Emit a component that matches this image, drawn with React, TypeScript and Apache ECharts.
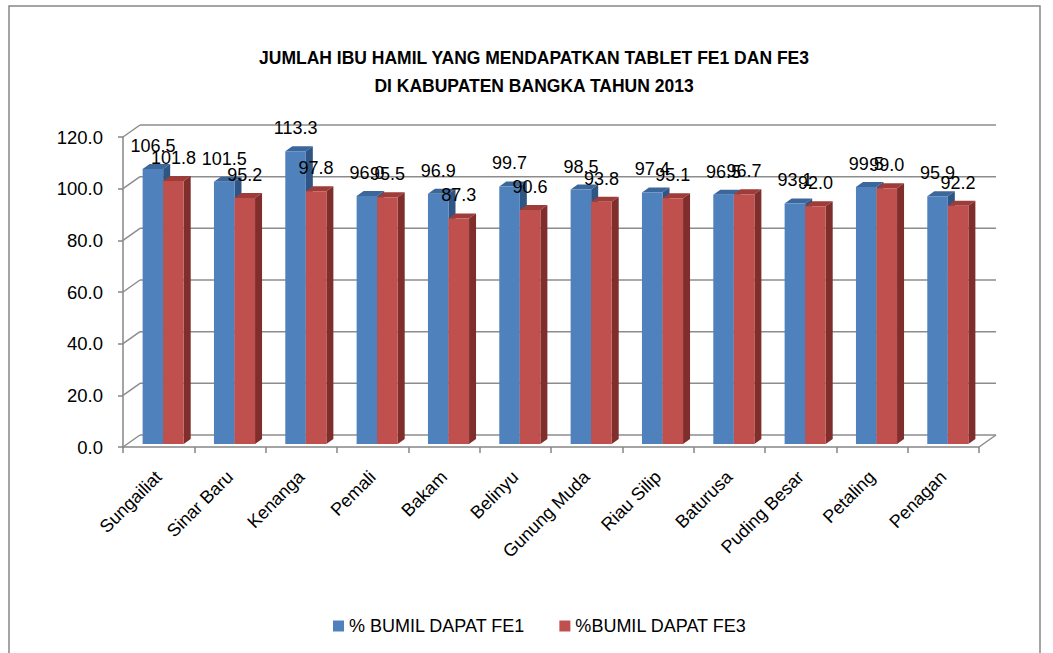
import React, { useEffect, useRef } from 'react';
import * as echarts from 'echarts';

const categories = ['Sungailiat', 'Sinar Baru', 'Kenanga', 'Pemali', 'Bakam', 'Belinyu', 'Gunung Muda', 'Riau Silip', 'Baturusa', 'Puding Besar', 'Petaling', 'Penagan'];
const fe1 = [106.5, 101.5, 113.3, 96.0, 96.9, 99.7, 98.5, 97.4, 96.5, 93.1, 99.5, 95.9];
const fe3 = [101.8, 95.2, 97.8, 95.5, 87.3, 90.6, 93.8, 95.1, 96.7, 92.0, 99.0, 92.2];
const yTicks = [0, 20, 40, 60, 80, 100, 120];
const seriesNames = ['% BUMIL DAPAT FE1', '%BUMIL DAPAT FE3'];
const titleLines = ['JUMLAH IBU HAMIL YANG MENDAPATKAN TABLET FE1 DAN FE3', 'DI KABUPATEN BANGKA TAHUN 2013'];

const FONT = '"Liberation Sans", Arial, sans-serif';
const GRID_COLOR = '#8C8C8C';
const WALL_DX = 17;
const WALL_DY = 12;
const BAR_FX = 4.5;
const BAR_FY = -3;
const BAR_DX = 7;
const BAR_DY = 5;

function makeBarRender(slot: number, front: string, top: string, side: string) {
  return (params: any, api: any) => {
    const idx = api.value(0);
    const v = api.value(1);
    const p0 = api.coord([idx, 0]);
    const p1 = api.coord([idx, v]);
    const band = api.size([1, 0])[0];
    const w = band * 0.288;
    const cx = p0[0] + BAR_FX;
    const l = slot === 0 ? cx - w : cx;
    const r = l + w;
    const b = p0[1] + BAR_FY;
    const t = p1[1] + BAR_FY;
    return {
      type: 'group',
      children: [
        { type: 'polygon', shape: { points: [[l, t], [r, t], [r + BAR_DX, t - BAR_DY], [l + BAR_DX, t - BAR_DY]] }, style: { fill: top } },
        { type: 'polygon', shape: { points: [[r, t], [r + BAR_DX, t - BAR_DY], [r + BAR_DX, b - BAR_DY], [r, b]] }, style: { fill: side } },
        { type: 'rect', shape: { x: l, y: t, width: w, height: b - t }, style: { fill: front } },
        { type: 'text', x: (l + r) / 2, y: t - 23, z2: 10, style: { text: Number(v).toFixed(1), align: 'center', verticalAlign: 'middle', fill: '#000', font: `18px ${FONT}` } },
      ],
    };
  };
}

function wallRender(params: any, api: any) {
  const cs = params.coordSys;
  const v = api.value(1);
  const y = api.coord([0, v])[1];
  const x0 = cs.x;
  const x1 = cs.x + cs.width;
  const ls = { stroke: GRID_COLOR, lineWidth: 1.5 };
  const children: any[] = [
    { type: 'line', shape: { x1: x0, y1: y, x2: x0 + WALL_DX, y2: y - WALL_DY }, style: ls },
    { type: 'line', shape: { x1: x0 + WALL_DX, y1: y - WALL_DY, x2: x1 + WALL_DX, y2: y - WALL_DY }, style: ls },
  ];
  if (v === 0) {
    children.push({ type: 'line', shape: { x1: x1, y1: y, x2: x1 + WALL_DX, y2: y - WALL_DY }, style: ls });
  }
  return { type: 'group', children };
}

export default function App() {
  const ref = useRef<HTMLDivElement>(null);
  useEffect(() => {
    if (!ref.current) return;
    const chart = echarts.init(ref.current, undefined, { renderer: 'svg' });
    chart.setOption({
      animation: false,
      backgroundColor: '#fff',
      title: {
        text: titleLines.join('\n'),
        left: 529,
        top: 39,
        textAlign: 'center',
        textStyle: { fontFamily: FONT, fontSize: 17.5, fontWeight: 'bold', color: '#000', lineHeight: 28 },
      },
      graphic: [
        { type: 'rect', silent: true, z: -10, shape: { x: 9, y: 6, width: 1031, height: 700 }, style: { fill: 'none', stroke: '#868686', lineWidth: 1.5 } },
      ],
      legend: {
        data: seriesNames,
        left: 328,
        top: 612,
        icon: 'rect',
        itemWidth: 11,
        itemHeight: 11,
        itemGap: 34,
        textStyle: { fontFamily: FONT, fontSize: 18, color: '#000' },
      },
      grid: { left: 123, right: 74, top: 137, bottom: 206 },
      xAxis: {
        type: 'category',
        data: categories,
        boundaryGap: true,
        axisLine: { lineStyle: { color: '#868686', width: 1.5 } },
        axisTick: { show: true, length: 6, lineStyle: { color: '#868686', width: 1.5 } },
        axisLabel: { rotate: 45, margin: 27, interval: 0, fontFamily: FONT, fontSize: 18, color: '#000' },
      },
      yAxis: {
        type: 'value',
        min: 0,
        max: 120,
        interval: 20,
        axisLine: { show: true, lineStyle: { color: '#868686', width: 1.5 } },
        axisTick: { show: true, length: 5, lineStyle: { color: '#868686', width: 1.5 } },
        splitLine: { show: false },
        axisLabel: { margin: 20, formatter: (v: number) => v.toFixed(1), fontFamily: FONT, fontSize: 18.5, color: '#000' },
      },
      series: [
        {
          name: 'walls',
          type: 'custom',
          clip: false,
          z: 1,
          silent: true,
          renderItem: wallRender,
          data: yTicks.map((t) => [0, t]),
        },
        {
          name: seriesNames[0],
          type: 'custom',
          clip: false,
          z: 2,
          itemStyle: { color: '#4F81BD' },
          renderItem: makeBarRender(0, '#4F81BD', '#3C679B', '#2E5583'),
          data: fe1.map((v, i) => [i, v]),
        },
        {
          name: seriesNames[1],
          type: 'custom',
          clip: false,
          z: 3,
          itemStyle: { color: '#C0504D' },
          renderItem: makeBarRender(1, '#C0504D', '#9E3C39', '#7F2E2C'),
          data: fe3.map((v, i) => [i, v]),
        },
      ],
    });
    return () => chart.dispose();
  }, []);
  return <div ref={ref} style={{ position: 'fixed', left: 0, top: 0, width: 1053, height: 653, background: '#fff' }} />;
}
